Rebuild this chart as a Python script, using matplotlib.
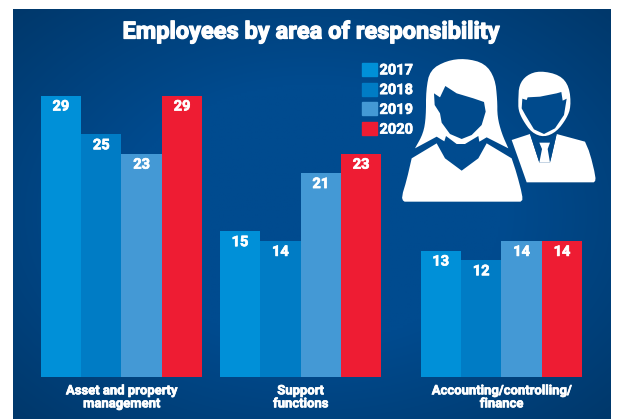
import numpy as np
import matplotlib
matplotlib.use('Agg')
import matplotlib.pyplot as plt
from matplotlib.patches import Polygon, Patch
import matplotlib.patheffects as pe

plt.rcParams['font.family'] = ['Roboto', 'DejaVu Sans']

categories = ['Asset and property\nmanagement', 'Support\nfunctions', 'Accounting/controlling/\nfinance']
years = ['2017', '2018', '2019', '2020']
values_2017 = [29, 15, 13]
values_2018 = [25, 14, 12]
values_2019 = [23, 21, 14]
values_2020 = [29, 23, 14]
colors = ['#0090d8', '#007cc5', '#4499d5', '#ee1c33']
group_x = [121.5, 300.6, 501.4]
bar_w = 40.4
W, H = 618, 419
BG = '#004a8c'
# roboto bold is a bit thin next to the original, so thicken it slightly
thick = [pe.withStroke(linewidth=0.5, foreground='white')]


def smooth(pts, n=2):
    # chaikin, keeps the ends
    pts = np.array(pts, float)
    for _ in range(n):
        q = pts[:-1] * 0.75 + pts[1:] * 0.25
        r = pts[:-1] * 0.25 + pts[1:] * 0.75
        mid = np.empty((len(q) * 2, 2))
        mid[0::2] = q
        mid[1::2] = r
        pts = np.vstack([pts[0], mid, pts[-1]])
    return pts


def icon(ax, pts, color='white', round_it=True):
    pts = np.array(pts, float)
    if round_it:
        pts = smooth(pts)
    xy = np.column_stack([340 + pts[:, 0] / 3, pts[:, 1] / 3])
    ax.add_patch(Polygon(xy, closed=True, fc=color, ec='none', zorder=3))


fig = plt.figure(figsize=(W / 100, H / 100), dpi=100, facecolor='white')

# gradient panel
bg = fig.add_axes([13 / W, 0, (611 - 13) / W, (419 - 9) / H])
yy, xx = np.mgrid[-1:1:200j, -1:1:300j]
r = np.clip(np.sqrt(xx ** 2 + yy ** 2) / np.sqrt(2), 0, 1)
r = np.clip((r - 0.45) / 0.55, 0, 1)
c0 = np.array([0x00, 0x4b, 0x8f]) / 255
c1 = np.array([0x00, 0x38, 0x6b]) / 255
bg.imshow(c0 + (c1 - c0) * r[..., None], aspect='auto', interpolation='bilinear')
bg.axis('off')

# bars
ax = fig.add_axes([0, (H - 376.7) / H, 1, (376.7 - 30) / H])
ax.patch.set_alpha(0)
ax.set_xlim(0, W)
ax.set_ylim(0, (376.7 - 30) / 9.69)
series = [values_2017, values_2018, values_2019, values_2020]
for i, vals in enumerate(series):
    xs = [g + (i - 1.5) * bar_w for g in group_x]
    ax.bar(xs, vals, width=bar_w, color=colors[i], linewidth=0, label=years[i], zorder=2)
    for x, v in zip(xs, vals):
        ax.annotate(str(v), (x, v), xytext=(0, -7.8), textcoords='offset points',
                    ha='center', va='center', color='white', fontsize=10.5,
                    fontweight='bold', zorder=4, path_effects=thick)
for s in ax.spines.values():
    s.set_visible(False)
ax.set_yticks([])
ax.set_xticks(group_x)
ax.set_xticklabels(categories, color='white', fontsize=9.4, fontweight='bold', linespacing=1.0,
                   path_effects=thick)
ax.tick_params(axis='x', length=0, pad=5.5)

handles = [Patch(color=c, label=y) for c, y in zip(colors, years)]
leg = ax.legend(handles=handles, loc='upper left', bbox_to_anchor=(362 / W, (376.7 - 62.8) / (376.7 - 30)),
                frameon=False, handlelength=1.0, handleheight=1.0, handletextpad=0.2,
                labelspacing=0.36, borderpad=0, borderaxespad=0, labelcolor='white',
                prop={'weight': 'bold', 'size': 10.5})
for t in leg.get_texts():
    t.set_path_effects(thick)

fig.text(311 / W, 1 - 32 / H, 'Employees by area of responsibility', color='white', fontsize=17,
         fontweight='bold', ha='center', va='center',
         path_effects=[pe.withStroke(linewidth=0.9, foreground='white')])

# people icons, plain pixel overlay
ov = fig.add_axes([0, 0, 1, 1])
ov.set_xlim(0, W)
ov.set_ylim(H, 0)
ov.axis('off')
ov.patch.set_alpha(0)

# man
icon(ov, [(535, 300), (537, 255), (560, 225), (600, 212), (660, 225), (688, 260), (693, 320), (680, 355),
          (650, 395), (612, 412), (575, 398), (548, 360), (535, 330), (535, 300)])
icon(ov, [(563, 292), (600, 290), (650, 280), (664, 276), (668, 302), (680, 296), (672, 345), (645, 385), (612, 402),
          (582, 388), (556, 345), (545, 325), (547, 296), (560, 300), (563, 292)], BG, False)
icon(ov, list(smooth([(515, 420), (570, 402)], 0)) + [(598, 488), (630, 488), (650, 402)]
     + list(smooth([(735, 425), (750, 460), (767, 530), (765, 547), (750, 547)], 1)) + [(560, 547), (540, 490)],
     round_it=False)
icon(ov, [(570, 402), (597, 485), (604, 445), (596, 428), (632, 428), (624, 445), (631, 485), (650, 402), (612, 416)],
     BG, False)
icon(ov, [(598, 428), (630, 428), (623, 447), (630, 488), (598, 488), (606, 447)], round_it=False)

# woman
hair = [(225, 445), (250, 400), (258, 350), (258, 270), (270, 210), (320, 182), (375, 175), (435, 190), (465, 235),
        (472, 300), (472, 350), (485, 400), (505, 445)]
icon(ov, list(smooth(hair)) + [(440, 412), (418, 425), (415, 408), (375, 432), (350, 432), (318, 408), (313, 424),
                               (290, 410)], round_it=False)
icon(ov, [(316, 258), (350, 280), (400, 295), (432, 306), (437, 335), (425, 375), (395, 405), (365, 417), (330, 402),
          (305, 368), (300, 340), (284, 315), (282, 280), (300, 292), (316, 258)], BG, False)
body = list(smooth([(215, 475), (200, 540), (185, 590), (190, 605), (205, 605)], 1)) \
    + list(smooth([(525, 605), (547, 605), (547, 585), (530, 520), (515, 475)], 1))
icon(ov, [(290, 430)] + body + [(440, 430), (415, 475), (365, 512), (315, 475)], round_it=False)

fig.savefig('out.png', dpi=100)
